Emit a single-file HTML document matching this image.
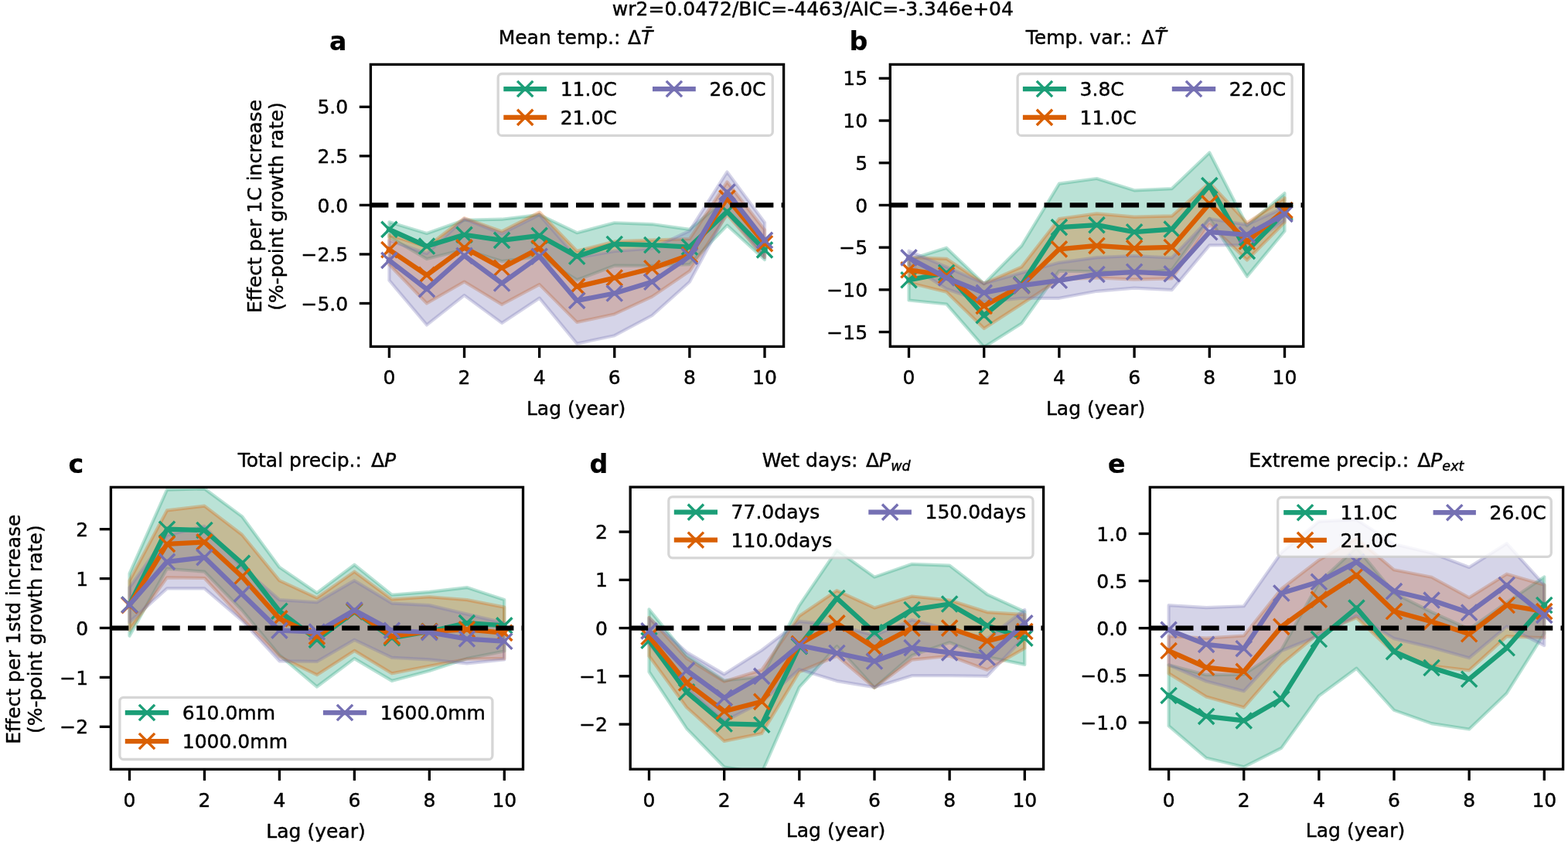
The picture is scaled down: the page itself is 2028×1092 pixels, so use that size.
<!DOCTYPE html>
<html><head><meta charset="utf-8"><title>Figure</title><style>html,body{margin:0;padding:0;background:#fff;width:2028px;height:1092px;overflow:hidden}svg{display:block}</style></head><body>
<svg width="2028" height="1092" viewBox="0 0 2028 1092" font-family="'DejaVu Sans', 'Liberation Sans', sans-serif">
<style>text{fill:#000;stroke:#000;stroke-width:0.45px;stroke-linejoin:round}</style>
<rect x="0" y="0" width="2028" height="1092" fill="#ffffff"/>
<clipPath id="clipa"><rect x="479.4" y="83.4" width="534.2" height="365"/></clipPath>
<g clip-path="url(#clipa)">
<path d="M503.4 287.26L551.96 302L600.52 284.72L649.08 283.7L697.64 277.86L746.2 301.24L794.76 288.28L843.32 290.06L891.88 296.92L940.44 255.99L989 310.65L989 336.07L940.44 291.58L891.88 342.17L843.32 343.95L794.76 343.69L746.2 362.25L697.64 331.75L649.08 338.1L600.52 322.85L551.96 335.05L503.4 306.58Z" fill="#1b9e77" fill-opacity="0.3" stroke="#1b9e77" stroke-opacity="0.3" stroke-width="4.17" stroke-linejoin="round"/>
<path d="M503.4 303.78L551.96 319.29L600.52 282.18L649.08 299.46L697.64 274.55L746.2 324.88L794.76 312.43L843.32 310.65L891.88 309.12L940.44 235.4L989 297.43L989 333.02L940.44 277.6L891.88 350.81L843.32 383.86L794.76 406.48L746.2 416.9L697.64 368.1L649.08 394.03L600.52 364.54L551.96 392.5L503.4 342.42Z" fill="#d95f02" fill-opacity="0.3" stroke="#d95f02" stroke-opacity="0.3" stroke-width="4.17" stroke-linejoin="round"/>
<path d="M503.4 310.9L551.96 327.93L600.52 283.19L649.08 302.26L697.64 277.86L746.2 333.27L794.76 324.88L843.32 321.32L891.88 298.7L940.44 222.44L989 288.02L989 333.78L940.44 274.81L891.88 364.79L843.32 408.26L794.76 434.19L746.2 444.61L697.64 385.64L649.08 417.92L600.52 382.08L551.96 420.46L503.4 362.76Z" fill="#7570b3" fill-opacity="0.3" stroke="#7570b3" stroke-opacity="0.3" stroke-width="4.17" stroke-linejoin="round"/>
<polyline points="503.4,296.92 551.96,318.53 600.52,303.78 649.08,310.9 697.64,304.8 746.2,331.75 794.76,315.99 843.32,317 891.88,319.54 940.44,273.79 989,323.36" fill="none" stroke="#1b9e77" stroke-width="6.25" stroke-linejoin="round" stroke-linecap="square"/>
<path d="M493.3 286.82L513.5 307.02M493.3 307.02L513.5 286.82" stroke="#1b9e77" stroke-width="3.4" fill="none" stroke-linecap="butt"/>
<path d="M541.86 308.43L562.06 328.63M541.86 328.63L562.06 308.43" stroke="#1b9e77" stroke-width="3.4" fill="none" stroke-linecap="butt"/>
<path d="M590.42 293.68L610.62 313.88M590.42 313.88L610.62 293.68" stroke="#1b9e77" stroke-width="3.4" fill="none" stroke-linecap="butt"/>
<path d="M638.98 300.8L659.18 321M638.98 321L659.18 300.8" stroke="#1b9e77" stroke-width="3.4" fill="none" stroke-linecap="butt"/>
<path d="M687.54 294.7L707.74 314.9M687.54 314.9L707.74 294.7" stroke="#1b9e77" stroke-width="3.4" fill="none" stroke-linecap="butt"/>
<path d="M736.1 321.65L756.3 341.85M736.1 341.85L756.3 321.65" stroke="#1b9e77" stroke-width="3.4" fill="none" stroke-linecap="butt"/>
<path d="M784.66 305.89L804.86 326.09M784.66 326.09L804.86 305.89" stroke="#1b9e77" stroke-width="3.4" fill="none" stroke-linecap="butt"/>
<path d="M833.22 306.9L853.42 327.1M833.22 327.1L853.42 306.9" stroke="#1b9e77" stroke-width="3.4" fill="none" stroke-linecap="butt"/>
<path d="M881.78 309.44L901.98 329.64M881.78 329.64L901.98 309.44" stroke="#1b9e77" stroke-width="3.4" fill="none" stroke-linecap="butt"/>
<path d="M930.34 263.69L950.54 283.89M930.34 283.89L950.54 263.69" stroke="#1b9e77" stroke-width="3.4" fill="none" stroke-linecap="butt"/>
<path d="M978.9 313.26L999.1 333.46M978.9 333.46L999.1 313.26" stroke="#1b9e77" stroke-width="3.4" fill="none" stroke-linecap="butt"/>
<polyline points="503.4,323.1 551.96,355.9 600.52,320.31 649.08,346.74 697.64,321.32 746.2,370.89 794.76,359.45 843.32,347.25 891.88,329.97 940.44,256.5 989,315.22" fill="none" stroke="#d95f02" stroke-width="6.25" stroke-linejoin="round" stroke-linecap="square"/>
<path d="M493.3 313L513.5 333.2M493.3 333.2L513.5 313" stroke="#d95f02" stroke-width="3.4" fill="none" stroke-linecap="butt"/>
<path d="M541.86 345.8L562.06 366M541.86 366L562.06 345.8" stroke="#d95f02" stroke-width="3.4" fill="none" stroke-linecap="butt"/>
<path d="M590.42 310.21L610.62 330.41M590.42 330.41L610.62 310.21" stroke="#d95f02" stroke-width="3.4" fill="none" stroke-linecap="butt"/>
<path d="M638.98 336.64L659.18 356.84M638.98 356.84L659.18 336.64" stroke="#d95f02" stroke-width="3.4" fill="none" stroke-linecap="butt"/>
<path d="M687.54 311.22L707.74 331.42M687.54 331.42L707.74 311.22" stroke="#d95f02" stroke-width="3.4" fill="none" stroke-linecap="butt"/>
<path d="M736.1 360.79L756.3 380.99M736.1 380.99L756.3 360.79" stroke="#d95f02" stroke-width="3.4" fill="none" stroke-linecap="butt"/>
<path d="M784.66 349.35L804.86 369.55M784.66 369.55L804.86 349.35" stroke="#d95f02" stroke-width="3.4" fill="none" stroke-linecap="butt"/>
<path d="M833.22 337.15L853.42 357.35M833.22 357.35L853.42 337.15" stroke="#d95f02" stroke-width="3.4" fill="none" stroke-linecap="butt"/>
<path d="M881.78 319.87L901.98 340.07M881.78 340.07L901.98 319.87" stroke="#d95f02" stroke-width="3.4" fill="none" stroke-linecap="butt"/>
<path d="M930.34 246.4L950.54 266.6M930.34 266.6L950.54 246.4" stroke="#d95f02" stroke-width="3.4" fill="none" stroke-linecap="butt"/>
<path d="M978.9 305.12L999.1 325.32M978.9 325.32L999.1 305.12" stroke="#d95f02" stroke-width="3.4" fill="none" stroke-linecap="butt"/>
<polyline points="503.4,336.83 551.96,374.2 600.52,330.73 649.08,366.57 697.64,331.75 746.2,388.94 794.76,379.54 843.32,364.79 891.88,331.75 940.44,248.62 989,310.9" fill="none" stroke="#7570b3" stroke-width="6.25" stroke-linejoin="round" stroke-linecap="square"/>
<path d="M493.3 326.73L513.5 346.93M493.3 346.93L513.5 326.73" stroke="#7570b3" stroke-width="3.4" fill="none" stroke-linecap="butt"/>
<path d="M541.86 364.1L562.06 384.3M541.86 384.3L562.06 364.1" stroke="#7570b3" stroke-width="3.4" fill="none" stroke-linecap="butt"/>
<path d="M590.42 320.63L610.62 340.83M590.42 340.83L610.62 320.63" stroke="#7570b3" stroke-width="3.4" fill="none" stroke-linecap="butt"/>
<path d="M638.98 356.47L659.18 376.67M638.98 376.67L659.18 356.47" stroke="#7570b3" stroke-width="3.4" fill="none" stroke-linecap="butt"/>
<path d="M687.54 321.65L707.74 341.85M687.54 341.85L707.74 321.65" stroke="#7570b3" stroke-width="3.4" fill="none" stroke-linecap="butt"/>
<path d="M736.1 378.84L756.3 399.04M736.1 399.04L756.3 378.84" stroke="#7570b3" stroke-width="3.4" fill="none" stroke-linecap="butt"/>
<path d="M784.66 369.44L804.86 389.64M784.66 389.64L804.86 369.44" stroke="#7570b3" stroke-width="3.4" fill="none" stroke-linecap="butt"/>
<path d="M833.22 354.69L853.42 374.89M833.22 374.89L853.42 354.69" stroke="#7570b3" stroke-width="3.4" fill="none" stroke-linecap="butt"/>
<path d="M881.78 321.65L901.98 341.85M881.78 341.85L901.98 321.65" stroke="#7570b3" stroke-width="3.4" fill="none" stroke-linecap="butt"/>
<path d="M930.34 238.52L950.54 258.72M930.34 258.72L950.54 238.52" stroke="#7570b3" stroke-width="3.4" fill="none" stroke-linecap="butt"/>
<path d="M978.9 300.8L999.1 321M978.9 321L999.1 300.8" stroke="#7570b3" stroke-width="3.4" fill="none" stroke-linecap="butt"/>
<line x1="479.4" y1="265.4" x2="1013.6" y2="265.4" stroke="#000" stroke-width="6.25" stroke-dasharray="23.0 10.2"/>
</g>
<rect x="479.4" y="83.4" width="534.2" height="365" fill="none" stroke="#000" stroke-width="3.33" stroke-linejoin="miter"/>
<line x1="503.4" y1="448.4" x2="503.4" y2="463" stroke="#000" stroke-width="3.33"/>
<text x="503.4" y="496.7" font-size="25" text-anchor="middle">0</text>
<line x1="600.52" y1="448.4" x2="600.52" y2="463" stroke="#000" stroke-width="3.33"/>
<text x="600.52" y="496.7" font-size="25" text-anchor="middle">2</text>
<line x1="697.64" y1="448.4" x2="697.64" y2="463" stroke="#000" stroke-width="3.33"/>
<text x="697.64" y="496.7" font-size="25" text-anchor="middle">4</text>
<line x1="794.76" y1="448.4" x2="794.76" y2="463" stroke="#000" stroke-width="3.33"/>
<text x="794.76" y="496.7" font-size="25" text-anchor="middle">6</text>
<line x1="891.88" y1="448.4" x2="891.88" y2="463" stroke="#000" stroke-width="3.33"/>
<text x="891.88" y="496.7" font-size="25" text-anchor="middle">8</text>
<line x1="989" y1="448.4" x2="989" y2="463" stroke="#000" stroke-width="3.33"/>
<text x="989" y="496.7" font-size="25" text-anchor="middle">10</text>
<line x1="464.8" y1="392.5" x2="479.4" y2="392.5" stroke="#000" stroke-width="3.33"/>
<text x="450.2" y="401.6" font-size="25" text-anchor="end">−5.0</text>
<line x1="464.8" y1="328.95" x2="479.4" y2="328.95" stroke="#000" stroke-width="3.33"/>
<text x="450.2" y="338.05" font-size="25" text-anchor="end">−2.5</text>
<line x1="464.8" y1="265.4" x2="479.4" y2="265.4" stroke="#000" stroke-width="3.33"/>
<text x="450.2" y="274.5" font-size="25" text-anchor="end">0.0</text>
<line x1="464.8" y1="201.85" x2="479.4" y2="201.85" stroke="#000" stroke-width="3.33"/>
<text x="450.2" y="210.95" font-size="25" text-anchor="end">2.5</text>
<line x1="464.8" y1="138.3" x2="479.4" y2="138.3" stroke="#000" stroke-width="3.33"/>
<text x="450.2" y="147.4" font-size="25" text-anchor="end">5.0</text>
<text x="745.1" y="536.6" font-size="25" text-anchor="middle">Lag (year)</text>
<text x="744.5" y="57.2" font-size="25" text-anchor="middle">Mean temp.: <tspan dx="1.5">Δ</tspan><tspan font-style="italic">T̄</tspan></text>
<text x="426" y="64.5" font-size="33.3" font-weight="bold" style="stroke-width:0.2px">a</text>
<rect x="644.2" y="95.5" width="355.1" height="79.9" rx="5" ry="5" fill="#ffffff" fill-opacity="0.8" stroke="#cccccc" stroke-opacity="0.8" stroke-width="3.3"/>
<line x1="651.3" y1="115" x2="707.1" y2="115" stroke="#1b9e77" stroke-width="6.25"/>
<path d="M669.1 104.9L689.3 125.1M669.1 125.1L689.3 104.9" stroke="#1b9e77" stroke-width="3.4" fill="none" stroke-linecap="butt"/>
<text x="724.7" y="123.8" font-size="25">11.0C</text>
<line x1="651.3" y1="151.9" x2="707.1" y2="151.9" stroke="#d95f02" stroke-width="6.25"/>
<path d="M669.1 141.8L689.3 162M669.1 162L689.3 141.8" stroke="#d95f02" stroke-width="3.4" fill="none" stroke-linecap="butt"/>
<text x="724.7" y="160.7" font-size="25">21.0C</text>
<line x1="844" y1="115" x2="899.8" y2="115" stroke="#7570b3" stroke-width="6.25"/>
<path d="M861.8 104.9L882 125.1M861.8 125.1L882 104.9" stroke="#7570b3" stroke-width="3.4" fill="none" stroke-linecap="butt"/>
<text x="917.4" y="123.8" font-size="25">26.0C</text>
<clipPath id="clipb"><rect x="1151.3" y="83.4" width="534.4" height="364.9"/></clipPath>
<g clip-path="url(#clipb)">
<path d="M1175.5 336.01L1224.1 320.7L1272.7 367.19L1321.3 317.96L1369.9 237.66L1418.5 230.99L1467.1 246.31L1515.7 244.12L1564.3 197.4L1612.9 292.03L1661.5 250.02L1661.5 299.04L1612.9 357.67L1564.3 282.74L1515.7 349.14L1467.1 354.17L1418.5 351.33L1369.9 350.56L1321.3 418.61L1272.7 449.24L1224.1 393.45L1175.5 388.52Z" fill="#1b9e77" fill-opacity="0.3" stroke="#1b9e77" stroke-opacity="0.3" stroke-width="4.17" stroke-linejoin="round"/>
<path d="M1175.5 332.84L1224.1 334.81L1272.7 366.97L1321.3 345.31L1369.9 282.95L1418.5 276.39L1467.1 280.66L1515.7 279.45L1564.3 236.46L1612.9 288.42L1661.5 256.15L1661.5 287.88L1612.9 336.56L1564.3 290.28L1515.7 360.41L1467.1 361.61L1418.5 359.53L1369.9 361.72L1321.3 393.45L1272.7 424.96L1224.1 377.69L1175.5 365.66Z" fill="#d95f02" fill-opacity="0.3" stroke="#d95f02" stroke-opacity="0.3" stroke-width="4.17" stroke-linejoin="round"/>
<path d="M1175.5 324.64L1224.1 345.31L1272.7 366.75L1321.3 352.97L1369.9 339.84L1418.5 333.06L1467.1 330.98L1515.7 333.5L1564.3 283.06L1612.9 290.72L1661.5 268.19L1661.5 285.69L1612.9 316.98L1564.3 317.41L1515.7 375.07L1467.1 372.55L1418.5 376.82L1369.9 385.79L1321.3 385.79L1272.7 390.82L1224.1 373.76L1175.5 342.14Z" fill="#7570b3" fill-opacity="0.3" stroke="#7570b3" stroke-opacity="0.3" stroke-width="4.17" stroke-linejoin="round"/>
<polyline points="1175.5,362.27 1224.1,352.97 1272.7,408.22 1321.3,368.29 1369.9,294.11 1418.5,291.16 1467.1,300.24 1515.7,296.63 1564.3,240.07 1612.9,324.85 1661.5,274.53" fill="none" stroke="#1b9e77" stroke-width="6.25" stroke-linejoin="round" stroke-linecap="square"/>
<path d="M1165.4 352.17L1185.6 372.37M1165.4 372.37L1185.6 352.17" stroke="#1b9e77" stroke-width="3.4" fill="none" stroke-linecap="butt"/>
<path d="M1214 342.87L1234.2 363.07M1214 363.07L1234.2 342.87" stroke="#1b9e77" stroke-width="3.4" fill="none" stroke-linecap="butt"/>
<path d="M1262.6 398.12L1282.8 418.32M1262.6 418.32L1282.8 398.12" stroke="#1b9e77" stroke-width="3.4" fill="none" stroke-linecap="butt"/>
<path d="M1311.2 358.19L1331.4 378.39M1311.2 378.39L1331.4 358.19" stroke="#1b9e77" stroke-width="3.4" fill="none" stroke-linecap="butt"/>
<path d="M1359.8 284.01L1380 304.21M1359.8 304.21L1380 284.01" stroke="#1b9e77" stroke-width="3.4" fill="none" stroke-linecap="butt"/>
<path d="M1408.4 281.06L1428.6 301.26M1408.4 301.26L1428.6 281.06" stroke="#1b9e77" stroke-width="3.4" fill="none" stroke-linecap="butt"/>
<path d="M1457 290.14L1477.2 310.34M1457 310.34L1477.2 290.14" stroke="#1b9e77" stroke-width="3.4" fill="none" stroke-linecap="butt"/>
<path d="M1505.6 286.53L1525.8 306.73M1505.6 306.73L1525.8 286.53" stroke="#1b9e77" stroke-width="3.4" fill="none" stroke-linecap="butt"/>
<path d="M1554.2 229.97L1574.4 250.17M1554.2 250.17L1574.4 229.97" stroke="#1b9e77" stroke-width="3.4" fill="none" stroke-linecap="butt"/>
<path d="M1602.8 314.75L1623 334.95M1602.8 334.95L1623 314.75" stroke="#1b9e77" stroke-width="3.4" fill="none" stroke-linecap="butt"/>
<path d="M1651.4 264.43L1671.6 284.63M1651.4 284.63L1671.6 264.43" stroke="#1b9e77" stroke-width="3.4" fill="none" stroke-linecap="butt"/>
<polyline points="1175.5,349.25 1224.1,356.25 1272.7,395.96 1321.3,369.38 1369.9,322.34 1418.5,317.96 1467.1,321.13 1515.7,319.93 1564.3,263.37 1612.9,312.49 1661.5,272.01" fill="none" stroke="#d95f02" stroke-width="6.25" stroke-linejoin="round" stroke-linecap="square"/>
<path d="M1165.4 339.15L1185.6 359.35M1165.4 359.35L1185.6 339.15" stroke="#d95f02" stroke-width="3.4" fill="none" stroke-linecap="butt"/>
<path d="M1214 346.15L1234.2 366.35M1214 366.35L1234.2 346.15" stroke="#d95f02" stroke-width="3.4" fill="none" stroke-linecap="butt"/>
<path d="M1262.6 385.86L1282.8 406.06M1262.6 406.06L1282.8 385.86" stroke="#d95f02" stroke-width="3.4" fill="none" stroke-linecap="butt"/>
<path d="M1311.2 359.28L1331.4 379.48M1311.2 379.48L1331.4 359.28" stroke="#d95f02" stroke-width="3.4" fill="none" stroke-linecap="butt"/>
<path d="M1359.8 312.24L1380 332.44M1359.8 332.44L1380 312.24" stroke="#d95f02" stroke-width="3.4" fill="none" stroke-linecap="butt"/>
<path d="M1408.4 307.86L1428.6 328.06M1408.4 328.06L1428.6 307.86" stroke="#d95f02" stroke-width="3.4" fill="none" stroke-linecap="butt"/>
<path d="M1457 311.03L1477.2 331.23M1457 331.23L1477.2 311.03" stroke="#d95f02" stroke-width="3.4" fill="none" stroke-linecap="butt"/>
<path d="M1505.6 309.83L1525.8 330.03M1505.6 330.03L1525.8 309.83" stroke="#d95f02" stroke-width="3.4" fill="none" stroke-linecap="butt"/>
<path d="M1554.2 253.27L1574.4 273.47M1554.2 273.47L1574.4 253.27" stroke="#d95f02" stroke-width="3.4" fill="none" stroke-linecap="butt"/>
<path d="M1602.8 302.39L1623 322.59M1602.8 322.59L1623 302.39" stroke="#d95f02" stroke-width="3.4" fill="none" stroke-linecap="butt"/>
<path d="M1651.4 261.91L1671.6 282.11M1651.4 282.11L1671.6 261.91" stroke="#d95f02" stroke-width="3.4" fill="none" stroke-linecap="butt"/>
<polyline points="1175.5,333.39 1224.1,359.53 1272.7,378.79 1321.3,369.38 1369.9,362.82 1418.5,354.94 1467.1,351.77 1515.7,354.28 1564.3,300.24 1612.9,303.85 1661.5,276.94" fill="none" stroke="#7570b3" stroke-width="6.25" stroke-linejoin="round" stroke-linecap="square"/>
<path d="M1165.4 323.29L1185.6 343.49M1165.4 343.49L1185.6 323.29" stroke="#7570b3" stroke-width="3.4" fill="none" stroke-linecap="butt"/>
<path d="M1214 349.43L1234.2 369.63M1214 369.63L1234.2 349.43" stroke="#7570b3" stroke-width="3.4" fill="none" stroke-linecap="butt"/>
<path d="M1262.6 368.69L1282.8 388.89M1262.6 388.89L1282.8 368.69" stroke="#7570b3" stroke-width="3.4" fill="none" stroke-linecap="butt"/>
<path d="M1311.2 359.28L1331.4 379.48M1311.2 379.48L1331.4 359.28" stroke="#7570b3" stroke-width="3.4" fill="none" stroke-linecap="butt"/>
<path d="M1359.8 352.72L1380 372.92M1359.8 372.92L1380 352.72" stroke="#7570b3" stroke-width="3.4" fill="none" stroke-linecap="butt"/>
<path d="M1408.4 344.84L1428.6 365.04M1408.4 365.04L1428.6 344.84" stroke="#7570b3" stroke-width="3.4" fill="none" stroke-linecap="butt"/>
<path d="M1457 341.67L1477.2 361.87M1457 361.87L1477.2 341.67" stroke="#7570b3" stroke-width="3.4" fill="none" stroke-linecap="butt"/>
<path d="M1505.6 344.18L1525.8 364.38M1505.6 364.38L1525.8 344.18" stroke="#7570b3" stroke-width="3.4" fill="none" stroke-linecap="butt"/>
<path d="M1554.2 290.14L1574.4 310.34M1554.2 310.34L1574.4 290.14" stroke="#7570b3" stroke-width="3.4" fill="none" stroke-linecap="butt"/>
<path d="M1602.8 293.75L1623 313.95M1602.8 313.95L1623 293.75" stroke="#7570b3" stroke-width="3.4" fill="none" stroke-linecap="butt"/>
<path d="M1651.4 266.84L1671.6 287.04M1651.4 287.04L1671.6 266.84" stroke="#7570b3" stroke-width="3.4" fill="none" stroke-linecap="butt"/>
<line x1="1151.3" y1="265.45" x2="1685.7" y2="265.45" stroke="#000" stroke-width="6.25" stroke-dasharray="23.0 10.2"/>
</g>
<rect x="1151.3" y="83.4" width="534.4" height="364.9" fill="none" stroke="#000" stroke-width="3.33" stroke-linejoin="miter"/>
<line x1="1175.5" y1="448.3" x2="1175.5" y2="462.9" stroke="#000" stroke-width="3.33"/>
<text x="1175.5" y="496.6" font-size="25" text-anchor="middle">0</text>
<line x1="1272.7" y1="448.3" x2="1272.7" y2="462.9" stroke="#000" stroke-width="3.33"/>
<text x="1272.7" y="496.6" font-size="25" text-anchor="middle">2</text>
<line x1="1369.9" y1="448.3" x2="1369.9" y2="462.9" stroke="#000" stroke-width="3.33"/>
<text x="1369.9" y="496.6" font-size="25" text-anchor="middle">4</text>
<line x1="1467.1" y1="448.3" x2="1467.1" y2="462.9" stroke="#000" stroke-width="3.33"/>
<text x="1467.1" y="496.6" font-size="25" text-anchor="middle">6</text>
<line x1="1564.3" y1="448.3" x2="1564.3" y2="462.9" stroke="#000" stroke-width="3.33"/>
<text x="1564.3" y="496.6" font-size="25" text-anchor="middle">8</text>
<line x1="1661.5" y1="448.3" x2="1661.5" y2="462.9" stroke="#000" stroke-width="3.33"/>
<text x="1661.5" y="496.6" font-size="25" text-anchor="middle">10</text>
<line x1="1136.7" y1="429.55" x2="1151.3" y2="429.55" stroke="#000" stroke-width="3.33"/>
<text x="1122.1" y="438.65" font-size="25" text-anchor="end">−15</text>
<line x1="1136.7" y1="374.85" x2="1151.3" y2="374.85" stroke="#000" stroke-width="3.33"/>
<text x="1122.1" y="383.95" font-size="25" text-anchor="end">−10</text>
<line x1="1136.7" y1="320.15" x2="1151.3" y2="320.15" stroke="#000" stroke-width="3.33"/>
<text x="1122.1" y="329.25" font-size="25" text-anchor="end">−5</text>
<line x1="1136.7" y1="265.45" x2="1151.3" y2="265.45" stroke="#000" stroke-width="3.33"/>
<text x="1122.1" y="274.55" font-size="25" text-anchor="end">0</text>
<line x1="1136.7" y1="210.75" x2="1151.3" y2="210.75" stroke="#000" stroke-width="3.33"/>
<text x="1122.1" y="219.85" font-size="25" text-anchor="end">5</text>
<line x1="1136.7" y1="156.05" x2="1151.3" y2="156.05" stroke="#000" stroke-width="3.33"/>
<text x="1122.1" y="165.15" font-size="25" text-anchor="end">10</text>
<line x1="1136.7" y1="101.35" x2="1151.3" y2="101.35" stroke="#000" stroke-width="3.33"/>
<text x="1122.1" y="110.45" font-size="25" text-anchor="end">15</text>
<text x="1417.1" y="536.5" font-size="25" text-anchor="middle">Lag (year)</text>
<text x="1417.75" y="57.2" font-size="25" text-anchor="middle">Temp. var.: <tspan dx="4.5">Δ</tspan><tspan font-style="italic">T̃</tspan></text>
<text x="1098.5" y="64.5" font-size="33.3" font-weight="bold" style="stroke-width:0.2px">b</text>
<rect x="1316.1" y="95.5" width="355" height="79.9" rx="5" ry="5" fill="#ffffff" fill-opacity="0.8" stroke="#cccccc" stroke-opacity="0.8" stroke-width="3.3"/>
<line x1="1322.9" y1="115" x2="1379" y2="115" stroke="#1b9e77" stroke-width="6.25"/>
<path d="M1340.85 104.9L1361.05 125.1M1340.85 125.1L1361.05 104.9" stroke="#1b9e77" stroke-width="3.4" fill="none" stroke-linecap="butt"/>
<text x="1396.6" y="123.8" font-size="25">3.8C</text>
<line x1="1322.9" y1="151.9" x2="1379" y2="151.9" stroke="#d95f02" stroke-width="6.25"/>
<path d="M1340.85 141.8L1361.05 162M1340.85 162L1361.05 141.8" stroke="#d95f02" stroke-width="3.4" fill="none" stroke-linecap="butt"/>
<text x="1396.6" y="160.7" font-size="25">11.0C</text>
<line x1="1515.8" y1="115" x2="1572.2" y2="115" stroke="#7570b3" stroke-width="6.25"/>
<path d="M1533.9 104.9L1554.1 125.1M1533.9 125.1L1554.1 104.9" stroke="#7570b3" stroke-width="3.4" fill="none" stroke-linecap="butt"/>
<text x="1589.8" y="123.8" font-size="25">22.0C</text>
<clipPath id="clipc"><rect x="143.4" y="630.4" width="533.1" height="364.9"/></clipPath>
<g clip-path="url(#clipc)">
<path d="M167.5 742.21L215.98 633.58L264.46 632.3L312.94 668.09L361.42 733.9L409.9 767.13L458.38 730.71L506.86 769.69L555.34 765.85L603.82 760.1L652.3 776.08L652.3 842.53L603.82 852.12L555.34 868.09L506.86 880.87L458.38 852.12L409.9 888.54L361.42 847.64L312.94 789.5L264.46 739.65L215.98 735.82L167.5 822.72Z" fill="#1b9e77" fill-opacity="0.3" stroke="#1b9e77" stroke-opacity="0.3" stroke-width="4.17" stroke-linejoin="round"/>
<path d="M167.5 751.16L215.98 660.42L264.46 654.67L312.94 691.73L361.42 751.16L409.9 773.52L458.38 739.65L506.86 775.44L555.34 772.24L603.82 776.08L652.3 785.66L652.3 852.12L603.82 852.76L555.34 861.7L506.86 871.29L458.38 841.89L409.9 873.21L361.42 849.56L312.94 800.36L264.46 747.96L215.98 747.32L167.5 815.06Z" fill="#d95f02" fill-opacity="0.3" stroke="#d95f02" stroke-opacity="0.3" stroke-width="4.17" stroke-linejoin="round"/>
<path d="M167.5 760.1L215.98 692.37L264.46 680.87L312.94 733.9L361.42 776.08L409.9 779.27L458.38 751.16L506.86 780.55L555.34 783.11L603.82 794.61L652.3 806.11L652.3 853.4L603.82 858.51L555.34 853.4L506.86 850.84L458.38 827.84L409.9 855.95L361.42 855.31L312.94 802.91L264.46 761.38L215.98 761.38L167.5 804.83Z" fill="#7570b3" fill-opacity="0.3" stroke="#7570b3" stroke-opacity="0.3" stroke-width="4.17" stroke-linejoin="round"/>
<polyline points="167.5,782.47 215.98,684.7 264.46,685.98 312.94,728.79 361.42,790.77 409.9,827.84 458.38,791.41 506.86,825.28 555.34,816.97 603.82,806.11 652.3,809.3" fill="none" stroke="#1b9e77" stroke-width="6.25" stroke-linejoin="round" stroke-linecap="square"/>
<path d="M157.4 772.37L177.6 792.57M157.4 792.57L177.6 772.37" stroke="#1b9e77" stroke-width="3.4" fill="none" stroke-linecap="butt"/>
<path d="M205.88 674.6L226.08 694.8M205.88 694.8L226.08 674.6" stroke="#1b9e77" stroke-width="3.4" fill="none" stroke-linecap="butt"/>
<path d="M254.36 675.88L274.56 696.08M254.36 696.08L274.56 675.88" stroke="#1b9e77" stroke-width="3.4" fill="none" stroke-linecap="butt"/>
<path d="M302.84 718.69L323.04 738.89M302.84 738.89L323.04 718.69" stroke="#1b9e77" stroke-width="3.4" fill="none" stroke-linecap="butt"/>
<path d="M351.32 780.67L371.52 800.87M351.32 800.87L371.52 780.67" stroke="#1b9e77" stroke-width="3.4" fill="none" stroke-linecap="butt"/>
<path d="M399.8 817.74L420 837.94M399.8 837.94L420 817.74" stroke="#1b9e77" stroke-width="3.4" fill="none" stroke-linecap="butt"/>
<path d="M448.28 781.31L468.48 801.51M448.28 801.51L468.48 781.31" stroke="#1b9e77" stroke-width="3.4" fill="none" stroke-linecap="butt"/>
<path d="M496.76 815.18L516.96 835.38M496.76 835.38L516.96 815.18" stroke="#1b9e77" stroke-width="3.4" fill="none" stroke-linecap="butt"/>
<path d="M545.24 806.87L565.44 827.07M545.24 827.07L565.44 806.87" stroke="#1b9e77" stroke-width="3.4" fill="none" stroke-linecap="butt"/>
<path d="M593.72 796.01L613.92 816.21M593.72 816.21L613.92 796.01" stroke="#1b9e77" stroke-width="3.4" fill="none" stroke-linecap="butt"/>
<path d="M642.2 799.2L662.4 819.4M642.2 819.4L662.4 799.2" stroke="#1b9e77" stroke-width="3.4" fill="none" stroke-linecap="butt"/>
<polyline points="167.5,783.11 215.98,703.87 264.46,701.31 312.94,746.04 361.42,800.36 409.9,823.36 458.38,790.77 506.86,823.36 555.34,816.97 603.82,814.42 652.3,818.89" fill="none" stroke="#d95f02" stroke-width="6.25" stroke-linejoin="round" stroke-linecap="square"/>
<path d="M157.4 773.01L177.6 793.21M157.4 793.21L177.6 773.01" stroke="#d95f02" stroke-width="3.4" fill="none" stroke-linecap="butt"/>
<path d="M205.88 693.77L226.08 713.97M205.88 713.97L226.08 693.77" stroke="#d95f02" stroke-width="3.4" fill="none" stroke-linecap="butt"/>
<path d="M254.36 691.21L274.56 711.41M254.36 711.41L274.56 691.21" stroke="#d95f02" stroke-width="3.4" fill="none" stroke-linecap="butt"/>
<path d="M302.84 735.94L323.04 756.14M302.84 756.14L323.04 735.94" stroke="#d95f02" stroke-width="3.4" fill="none" stroke-linecap="butt"/>
<path d="M351.32 790.26L371.52 810.46M351.32 810.46L371.52 790.26" stroke="#d95f02" stroke-width="3.4" fill="none" stroke-linecap="butt"/>
<path d="M399.8 813.26L420 833.46M399.8 833.46L420 813.26" stroke="#d95f02" stroke-width="3.4" fill="none" stroke-linecap="butt"/>
<path d="M448.28 780.67L468.48 800.87M448.28 800.87L468.48 780.67" stroke="#d95f02" stroke-width="3.4" fill="none" stroke-linecap="butt"/>
<path d="M496.76 813.26L516.96 833.46M496.76 833.46L516.96 813.26" stroke="#d95f02" stroke-width="3.4" fill="none" stroke-linecap="butt"/>
<path d="M545.24 806.87L565.44 827.07M545.24 827.07L565.44 806.87" stroke="#d95f02" stroke-width="3.4" fill="none" stroke-linecap="butt"/>
<path d="M593.72 804.32L613.92 824.52M593.72 824.52L613.92 804.32" stroke="#d95f02" stroke-width="3.4" fill="none" stroke-linecap="butt"/>
<path d="M642.2 808.79L662.4 828.99M642.2 828.99L662.4 808.79" stroke="#d95f02" stroke-width="3.4" fill="none" stroke-linecap="butt"/>
<polyline points="167.5,782.47 215.98,726.87 264.46,721.12 312.94,768.41 361.42,815.7 409.9,817.61 458.38,789.5 506.86,815.7 555.34,818.25 603.82,826.56 652.3,829.75" fill="none" stroke="#7570b3" stroke-width="6.25" stroke-linejoin="round" stroke-linecap="square"/>
<path d="M157.4 772.37L177.6 792.57M157.4 792.57L177.6 772.37" stroke="#7570b3" stroke-width="3.4" fill="none" stroke-linecap="butt"/>
<path d="M205.88 716.77L226.08 736.97M205.88 736.97L226.08 716.77" stroke="#7570b3" stroke-width="3.4" fill="none" stroke-linecap="butt"/>
<path d="M254.36 711.02L274.56 731.22M254.36 731.22L274.56 711.02" stroke="#7570b3" stroke-width="3.4" fill="none" stroke-linecap="butt"/>
<path d="M302.84 758.31L323.04 778.51M302.84 778.51L323.04 758.31" stroke="#7570b3" stroke-width="3.4" fill="none" stroke-linecap="butt"/>
<path d="M351.32 805.6L371.52 825.8M351.32 825.8L371.52 805.6" stroke="#7570b3" stroke-width="3.4" fill="none" stroke-linecap="butt"/>
<path d="M399.8 807.51L420 827.71M399.8 827.71L420 807.51" stroke="#7570b3" stroke-width="3.4" fill="none" stroke-linecap="butt"/>
<path d="M448.28 779.4L468.48 799.6M448.28 799.6L468.48 779.4" stroke="#7570b3" stroke-width="3.4" fill="none" stroke-linecap="butt"/>
<path d="M496.76 805.6L516.96 825.8M496.76 825.8L516.96 805.6" stroke="#7570b3" stroke-width="3.4" fill="none" stroke-linecap="butt"/>
<path d="M545.24 808.15L565.44 828.35M545.24 828.35L565.44 808.15" stroke="#7570b3" stroke-width="3.4" fill="none" stroke-linecap="butt"/>
<path d="M593.72 816.46L613.92 836.66M593.72 836.66L613.92 816.46" stroke="#7570b3" stroke-width="3.4" fill="none" stroke-linecap="butt"/>
<path d="M642.2 819.65L662.4 839.85M642.2 839.85L662.4 819.65" stroke="#7570b3" stroke-width="3.4" fill="none" stroke-linecap="butt"/>
<line x1="143.4" y1="812.5" x2="676.5" y2="812.5" stroke="#000" stroke-width="6.25" stroke-dasharray="23.0 10.2"/>
</g>
<rect x="143.4" y="630.4" width="533.1" height="364.9" fill="none" stroke="#000" stroke-width="3.33" stroke-linejoin="miter"/>
<line x1="167.5" y1="995.3" x2="167.5" y2="1009.9" stroke="#000" stroke-width="3.33"/>
<text x="167.5" y="1043.6" font-size="25" text-anchor="middle">0</text>
<line x1="264.46" y1="995.3" x2="264.46" y2="1009.9" stroke="#000" stroke-width="3.33"/>
<text x="264.46" y="1043.6" font-size="25" text-anchor="middle">2</text>
<line x1="361.42" y1="995.3" x2="361.42" y2="1009.9" stroke="#000" stroke-width="3.33"/>
<text x="361.42" y="1043.6" font-size="25" text-anchor="middle">4</text>
<line x1="458.38" y1="995.3" x2="458.38" y2="1009.9" stroke="#000" stroke-width="3.33"/>
<text x="458.38" y="1043.6" font-size="25" text-anchor="middle">6</text>
<line x1="555.34" y1="995.3" x2="555.34" y2="1009.9" stroke="#000" stroke-width="3.33"/>
<text x="555.34" y="1043.6" font-size="25" text-anchor="middle">8</text>
<line x1="652.3" y1="995.3" x2="652.3" y2="1009.9" stroke="#000" stroke-width="3.33"/>
<text x="652.3" y="1043.6" font-size="25" text-anchor="middle">10</text>
<line x1="128.8" y1="940.3" x2="143.4" y2="940.3" stroke="#000" stroke-width="3.33"/>
<text x="114.2" y="949.4" font-size="25" text-anchor="end">−2</text>
<line x1="128.8" y1="876.4" x2="143.4" y2="876.4" stroke="#000" stroke-width="3.33"/>
<text x="114.2" y="885.5" font-size="25" text-anchor="end">−1</text>
<line x1="128.8" y1="812.5" x2="143.4" y2="812.5" stroke="#000" stroke-width="3.33"/>
<text x="114.2" y="821.6" font-size="25" text-anchor="end">0</text>
<line x1="128.8" y1="748.6" x2="143.4" y2="748.6" stroke="#000" stroke-width="3.33"/>
<text x="114.2" y="757.7" font-size="25" text-anchor="end">1</text>
<line x1="128.8" y1="684.7" x2="143.4" y2="684.7" stroke="#000" stroke-width="3.33"/>
<text x="114.2" y="693.8" font-size="25" text-anchor="end">2</text>
<text x="408.55" y="1083.5" font-size="25" text-anchor="middle">Lag (year)</text>
<text x="409.95" y="604.2" font-size="25" text-anchor="middle">Total precip.: <tspan dx="4">Δ</tspan><tspan font-style="italic">P</tspan></text>
<text x="88.5" y="612" font-size="33.3" font-weight="bold" style="stroke-width:0.2px">c</text>
<rect x="154.9" y="902.3" width="482" height="80.2" rx="5" ry="5" fill="#ffffff" fill-opacity="0.8" stroke="#cccccc" stroke-opacity="0.8" stroke-width="3.3"/>
<line x1="161.8" y1="922" x2="218.2" y2="922" stroke="#1b9e77" stroke-width="6.25"/>
<path d="M179.9 911.9L200.1 932.1M179.9 932.1L200.1 911.9" stroke="#1b9e77" stroke-width="3.4" fill="none" stroke-linecap="butt"/>
<text x="235.8" y="930.8" font-size="25">610.0mm</text>
<line x1="161.8" y1="959" x2="218.2" y2="959" stroke="#d95f02" stroke-width="6.25"/>
<path d="M179.9 948.9L200.1 969.1M179.9 969.1L200.1 948.9" stroke="#d95f02" stroke-width="3.4" fill="none" stroke-linecap="butt"/>
<text x="235.8" y="967.8" font-size="25">1000.0mm</text>
<line x1="417.9" y1="922" x2="474.1" y2="922" stroke="#7570b3" stroke-width="6.25"/>
<path d="M435.9 911.9L456.1 932.1M435.9 932.1L456.1 911.9" stroke="#7570b3" stroke-width="3.4" fill="none" stroke-linecap="butt"/>
<text x="491.7" y="930.8" font-size="25">1600.0mm</text>
<clipPath id="clipd"><rect x="815.2" y="630.2" width="534.4" height="365"/></clipPath>
<g clip-path="url(#clipd)">
<path d="M839.5 788.32L888.08 848.08L936.66 880.45L985.24 875.47L1033.82 783.34L1082.4 711.75L1130.98 746.62L1179.56 729.81L1228.14 731.68L1276.72 769.02L1325.3 791.44L1325.3 859.91L1276.72 849.95L1228.14 831.27L1179.56 848.08L1130.98 889.79L1082.4 836.25L1033.82 889.17L985.24 999.97L936.66 992.5L888.08 942.7L839.5 869.25Z" fill="#1b9e77" fill-opacity="0.3" stroke="#1b9e77" stroke-opacity="0.3" stroke-width="4.17" stroke-linejoin="round"/>
<path d="M839.5 798.9L888.08 851.82L936.66 881.7L985.24 866.76L1033.82 797.04L1082.4 764.05L1130.98 786.46L1179.56 771.51L1228.14 776.5L1276.72 792.06L1325.3 795.17L1325.3 838.75L1276.72 866.76L1228.14 848.71L1179.56 853.69L1130.98 889.79L1082.4 848.71L1033.82 869.25L985.24 948.93L936.66 958.89L888.08 915.31L839.5 848.71Z" fill="#d95f02" fill-opacity="0.3" stroke="#d95f02" stroke-opacity="0.3" stroke-width="4.17" stroke-linejoin="round"/>
<path d="M839.5 799.53L888.08 843.73L936.66 872.36L985.24 841.24L1033.82 803.88L1082.4 808.87L1130.98 821.94L1179.56 802.02L1228.14 814.47L1276.72 826.3L1325.3 788.95L1325.3 823.81L1276.72 874.85L1228.14 874.23L1179.56 874.23L1130.98 889.17L1082.4 881.08L1033.82 866.13L985.24 908.47L936.66 933.37L888.08 891.04L839.5 833.14Z" fill="#7570b3" fill-opacity="0.3" stroke="#7570b3" stroke-opacity="0.3" stroke-width="4.17" stroke-linejoin="round"/>
<polyline points="839.5,828.79 888.08,895.39 936.66,936.48 985.24,937.72 1033.82,836.25 1082.4,774 1130.98,818.2 1179.56,788.95 1228.14,781.48 1276.72,809.49 1325.3,825.67" fill="none" stroke="#1b9e77" stroke-width="6.25" stroke-linejoin="round" stroke-linecap="square"/>
<path d="M829.4 818.69L849.6 838.89M829.4 838.89L849.6 818.69" stroke="#1b9e77" stroke-width="3.4" fill="none" stroke-linecap="butt"/>
<path d="M877.98 885.29L898.18 905.49M877.98 905.49L898.18 885.29" stroke="#1b9e77" stroke-width="3.4" fill="none" stroke-linecap="butt"/>
<path d="M926.56 926.38L946.76 946.58M926.56 946.58L946.76 926.38" stroke="#1b9e77" stroke-width="3.4" fill="none" stroke-linecap="butt"/>
<path d="M975.14 927.62L995.34 947.82M975.14 947.82L995.34 927.62" stroke="#1b9e77" stroke-width="3.4" fill="none" stroke-linecap="butt"/>
<path d="M1023.72 826.15L1043.92 846.36M1023.72 846.36L1043.92 826.15" stroke="#1b9e77" stroke-width="3.4" fill="none" stroke-linecap="butt"/>
<path d="M1072.3 763.9L1092.5 784.11M1072.3 784.11L1092.5 763.9" stroke="#1b9e77" stroke-width="3.4" fill="none" stroke-linecap="butt"/>
<path d="M1120.88 808.1L1141.08 828.3M1120.88 828.3L1141.08 808.1" stroke="#1b9e77" stroke-width="3.4" fill="none" stroke-linecap="butt"/>
<path d="M1169.46 778.85L1189.66 799.05M1169.46 799.05L1189.66 778.85" stroke="#1b9e77" stroke-width="3.4" fill="none" stroke-linecap="butt"/>
<path d="M1218.04 771.38L1238.24 791.58M1218.04 791.58L1238.24 771.38" stroke="#1b9e77" stroke-width="3.4" fill="none" stroke-linecap="butt"/>
<path d="M1266.62 799.39L1286.82 819.59M1266.62 819.59L1286.82 799.39" stroke="#1b9e77" stroke-width="3.4" fill="none" stroke-linecap="butt"/>
<path d="M1315.2 815.57L1335.4 835.77M1315.2 835.77L1335.4 815.57" stroke="#1b9e77" stroke-width="3.4" fill="none" stroke-linecap="butt"/>
<polyline points="839.5,823.81 888.08,883.57 936.66,920.29 985.24,907.84 1033.82,833.14 1082.4,806.38 1130.98,838.12 1179.56,812.6 1228.14,812.6 1276.72,829.41 1325.3,816.96" fill="none" stroke="#d95f02" stroke-width="6.25" stroke-linejoin="round" stroke-linecap="square"/>
<path d="M829.4 813.71L849.6 833.91M829.4 833.91L849.6 813.71" stroke="#d95f02" stroke-width="3.4" fill="none" stroke-linecap="butt"/>
<path d="M877.98 873.47L898.18 893.67M877.98 893.67L898.18 873.47" stroke="#d95f02" stroke-width="3.4" fill="none" stroke-linecap="butt"/>
<path d="M926.56 910.19L946.76 930.39M926.56 930.39L946.76 910.19" stroke="#d95f02" stroke-width="3.4" fill="none" stroke-linecap="butt"/>
<path d="M975.14 897.74L995.34 917.94M975.14 917.94L995.34 897.74" stroke="#d95f02" stroke-width="3.4" fill="none" stroke-linecap="butt"/>
<path d="M1023.72 823.04L1043.92 843.24M1023.72 843.24L1043.92 823.04" stroke="#d95f02" stroke-width="3.4" fill="none" stroke-linecap="butt"/>
<path d="M1072.3 796.27L1092.5 816.48M1072.3 816.48L1092.5 796.27" stroke="#d95f02" stroke-width="3.4" fill="none" stroke-linecap="butt"/>
<path d="M1120.88 828.02L1141.08 848.22M1120.88 848.22L1141.08 828.02" stroke="#d95f02" stroke-width="3.4" fill="none" stroke-linecap="butt"/>
<path d="M1169.46 802.5L1189.66 822.7M1169.46 822.7L1189.66 802.5" stroke="#d95f02" stroke-width="3.4" fill="none" stroke-linecap="butt"/>
<path d="M1218.04 802.5L1238.24 822.7M1218.04 822.7L1238.24 802.5" stroke="#d95f02" stroke-width="3.4" fill="none" stroke-linecap="butt"/>
<path d="M1266.62 819.31L1286.82 839.51M1266.62 839.51L1286.82 819.31" stroke="#d95f02" stroke-width="3.4" fill="none" stroke-linecap="butt"/>
<path d="M1315.2 806.86L1335.4 827.06M1315.2 827.06L1335.4 806.86" stroke="#d95f02" stroke-width="3.4" fill="none" stroke-linecap="butt"/>
<polyline points="839.5,816.34 888.08,867.38 936.66,902.86 985.24,874.85 1033.82,835.01 1082.4,844.97 1130.98,855.55 1179.56,838.12 1228.14,844.35 1276.72,850.57 1325.3,806.38" fill="none" stroke="#7570b3" stroke-width="6.25" stroke-linejoin="round" stroke-linecap="square"/>
<path d="M829.4 806.24L849.6 826.44M829.4 826.44L849.6 806.24" stroke="#7570b3" stroke-width="3.4" fill="none" stroke-linecap="butt"/>
<path d="M877.98 857.28L898.18 877.48M877.98 877.48L898.18 857.28" stroke="#7570b3" stroke-width="3.4" fill="none" stroke-linecap="butt"/>
<path d="M926.56 892.76L946.76 912.96M926.56 912.96L946.76 892.76" stroke="#7570b3" stroke-width="3.4" fill="none" stroke-linecap="butt"/>
<path d="M975.14 864.75L995.34 884.95M975.14 884.95L995.34 864.75" stroke="#7570b3" stroke-width="3.4" fill="none" stroke-linecap="butt"/>
<path d="M1023.72 824.91L1043.92 845.11M1023.72 845.11L1043.92 824.91" stroke="#7570b3" stroke-width="3.4" fill="none" stroke-linecap="butt"/>
<path d="M1072.3 834.87L1092.5 855.07M1072.3 855.07L1092.5 834.87" stroke="#7570b3" stroke-width="3.4" fill="none" stroke-linecap="butt"/>
<path d="M1120.88 845.45L1141.08 865.65M1120.88 865.65L1141.08 845.45" stroke="#7570b3" stroke-width="3.4" fill="none" stroke-linecap="butt"/>
<path d="M1169.46 828.02L1189.66 848.22M1169.46 848.22L1189.66 828.02" stroke="#7570b3" stroke-width="3.4" fill="none" stroke-linecap="butt"/>
<path d="M1218.04 834.25L1238.24 854.45M1218.04 854.45L1238.24 834.25" stroke="#7570b3" stroke-width="3.4" fill="none" stroke-linecap="butt"/>
<path d="M1266.62 840.47L1286.82 860.67M1266.62 860.67L1286.82 840.47" stroke="#7570b3" stroke-width="3.4" fill="none" stroke-linecap="butt"/>
<path d="M1315.2 796.27L1335.4 816.48M1315.2 816.48L1335.4 796.27" stroke="#7570b3" stroke-width="3.4" fill="none" stroke-linecap="butt"/>
<line x1="815.2" y1="812.6" x2="1349.6" y2="812.6" stroke="#000" stroke-width="6.25" stroke-dasharray="23.0 10.2"/>
</g>
<rect x="815.2" y="630.2" width="534.4" height="365" fill="none" stroke="#000" stroke-width="3.33" stroke-linejoin="miter"/>
<line x1="839.5" y1="995.2" x2="839.5" y2="1009.8" stroke="#000" stroke-width="3.33"/>
<text x="839.5" y="1043.5" font-size="25" text-anchor="middle">0</text>
<line x1="936.66" y1="995.2" x2="936.66" y2="1009.8" stroke="#000" stroke-width="3.33"/>
<text x="936.66" y="1043.5" font-size="25" text-anchor="middle">2</text>
<line x1="1033.82" y1="995.2" x2="1033.82" y2="1009.8" stroke="#000" stroke-width="3.33"/>
<text x="1033.82" y="1043.5" font-size="25" text-anchor="middle">4</text>
<line x1="1130.98" y1="995.2" x2="1130.98" y2="1009.8" stroke="#000" stroke-width="3.33"/>
<text x="1130.98" y="1043.5" font-size="25" text-anchor="middle">6</text>
<line x1="1228.14" y1="995.2" x2="1228.14" y2="1009.8" stroke="#000" stroke-width="3.33"/>
<text x="1228.14" y="1043.5" font-size="25" text-anchor="middle">8</text>
<line x1="1325.3" y1="995.2" x2="1325.3" y2="1009.8" stroke="#000" stroke-width="3.33"/>
<text x="1325.3" y="1043.5" font-size="25" text-anchor="middle">10</text>
<line x1="800.6" y1="937.1" x2="815.2" y2="937.1" stroke="#000" stroke-width="3.33"/>
<text x="786" y="946.2" font-size="25" text-anchor="end">−2</text>
<line x1="800.6" y1="874.85" x2="815.2" y2="874.85" stroke="#000" stroke-width="3.33"/>
<text x="786" y="883.95" font-size="25" text-anchor="end">−1</text>
<line x1="800.6" y1="812.6" x2="815.2" y2="812.6" stroke="#000" stroke-width="3.33"/>
<text x="786" y="821.7" font-size="25" text-anchor="end">0</text>
<line x1="800.6" y1="750.35" x2="815.2" y2="750.35" stroke="#000" stroke-width="3.33"/>
<text x="786" y="759.45" font-size="25" text-anchor="end">1</text>
<line x1="800.6" y1="688.1" x2="815.2" y2="688.1" stroke="#000" stroke-width="3.33"/>
<text x="786" y="697.2" font-size="25" text-anchor="end">2</text>
<text x="1081" y="1083.4" font-size="25" text-anchor="middle">Lag (year)</text>
<text x="1081.65" y="604" font-size="25" text-anchor="middle">Wet days: <tspan dx="2.5">Δ</tspan><tspan font-style="italic">P</tspan><tspan font-style="italic" font-size="17.5" dy="5.2">wd</tspan></text>
<text x="762.5" y="612" font-size="33.3" font-weight="bold" style="stroke-width:0.2px">d</text>
<rect x="864.8" y="642.8" width="471.2" height="79" rx="5" ry="5" fill="#ffffff" fill-opacity="0.8" stroke="#cccccc" stroke-opacity="0.8" stroke-width="3.3"/>
<line x1="871.8" y1="662.6" x2="928" y2="662.6" stroke="#1b9e77" stroke-width="6.25"/>
<path d="M889.8 652.5L910 672.7M889.8 672.7L910 652.5" stroke="#1b9e77" stroke-width="3.4" fill="none" stroke-linecap="butt"/>
<text x="945.6" y="671.4" font-size="25">77.0days</text>
<line x1="871.8" y1="698.7" x2="928" y2="698.7" stroke="#d95f02" stroke-width="6.25"/>
<path d="M889.8 688.6L910 708.8M889.8 708.8L910 688.6" stroke="#d95f02" stroke-width="3.4" fill="none" stroke-linecap="butt"/>
<text x="945.6" y="707.5" font-size="25">110.0days</text>
<line x1="1123.3" y1="662.6" x2="1178.9" y2="662.6" stroke="#7570b3" stroke-width="6.25"/>
<path d="M1141 652.5L1161.2 672.7M1141 672.7L1161.2 652.5" stroke="#7570b3" stroke-width="3.4" fill="none" stroke-linecap="butt"/>
<text x="1196.5" y="671.4" font-size="25">150.0days</text>
<clipPath id="clipe"><rect x="1487.3" y="630.4" width="534.3" height="364.8"/></clipPath>
<g clip-path="url(#clipe)">
<path d="M1511.6 860.36L1560.17 873.19L1608.74 872.58L1657.31 840.81L1705.88 753.68L1754.45 708.34L1803.02 767.36L1851.59 791.93L1900.16 813.92L1948.73 779.58L1997.3 746.35L1997.3 819.67L1948.73 896.9L1900.16 943.45L1851.59 936.12L1803.02 918.89L1754.45 864.76L1705.88 900.32L1657.31 967.89L1608.74 992.33L1560.17 980.73L1511.6 939.18Z" fill="#1b9e77" fill-opacity="0.3" stroke="#1b9e77" stroke-opacity="0.3" stroke-width="4.17" stroke-linejoin="round"/>
<path d="M1511.6 823.09L1560.17 825.65L1608.74 822.48L1657.31 761.99L1705.88 724.72L1754.45 696.61L1803.02 737.3L1851.59 746.71L1900.16 773.23L1948.73 742.68L1997.3 756.85L1997.3 825.29L1948.73 823.33L1900.16 867.32L1851.59 861.58L1803.02 844.84L1754.45 799.26L1705.88 818.81L1657.31 859.75L1608.74 915.35L1560.17 901.42L1511.6 871.36Z" fill="#d95f02" fill-opacity="0.3" stroke="#d95f02" stroke-opacity="0.3" stroke-width="4.17" stroke-linejoin="round"/>
<path d="M1511.6 783.13L1560.17 786.18L1608.74 784.23L1657.31 714.94L1705.88 674.61L1754.45 672.17L1803.02 703.94L1851.59 715.43L1900.16 734L1948.73 703.21L1997.3 756.85L1997.3 835.06L1948.73 810.74L1900.16 851.32L1851.59 837.63L1803.02 826.14L1754.45 796.81L1705.88 822.48L1657.31 842.03L1608.74 894.21L1560.17 881.5L1511.6 860.36Z" fill="#7570b3" fill-opacity="0.3" stroke="#7570b3" stroke-opacity="0.3" stroke-width="4.17" stroke-linejoin="round"/>
<polyline points="1511.6,899.95 1560.17,926.96 1608.74,932.46 1657.31,904.35 1705.88,827 1754.45,786.55 1803.02,843.13 1851.59,864.02 1900.16,878.69 1948.73,838.24 1997.3,783.01" fill="none" stroke="#1b9e77" stroke-width="6.25" stroke-linejoin="round" stroke-linecap="square"/>
<path d="M1501.5 889.85L1521.7 910.05M1501.5 910.05L1521.7 889.85" stroke="#1b9e77" stroke-width="3.4" fill="none" stroke-linecap="butt"/>
<path d="M1550.07 916.86L1570.27 937.06M1550.07 937.06L1570.27 916.86" stroke="#1b9e77" stroke-width="3.4" fill="none" stroke-linecap="butt"/>
<path d="M1598.64 922.36L1618.84 942.56M1598.64 942.56L1618.84 922.36" stroke="#1b9e77" stroke-width="3.4" fill="none" stroke-linecap="butt"/>
<path d="M1647.21 894.25L1667.41 914.45M1647.21 914.45L1667.41 894.25" stroke="#1b9e77" stroke-width="3.4" fill="none" stroke-linecap="butt"/>
<path d="M1695.78 816.9L1715.98 837.1M1695.78 837.1L1715.98 816.9" stroke="#1b9e77" stroke-width="3.4" fill="none" stroke-linecap="butt"/>
<path d="M1744.35 776.45L1764.55 796.65M1744.35 796.65L1764.55 776.45" stroke="#1b9e77" stroke-width="3.4" fill="none" stroke-linecap="butt"/>
<path d="M1792.92 833.03L1813.12 853.23M1792.92 853.23L1813.12 833.03" stroke="#1b9e77" stroke-width="3.4" fill="none" stroke-linecap="butt"/>
<path d="M1841.49 853.92L1861.69 874.12M1841.49 874.12L1861.69 853.92" stroke="#1b9e77" stroke-width="3.4" fill="none" stroke-linecap="butt"/>
<path d="M1890.06 868.59L1910.26 888.79M1890.06 888.79L1910.26 868.59" stroke="#1b9e77" stroke-width="3.4" fill="none" stroke-linecap="butt"/>
<path d="M1938.63 828.14L1958.83 848.34M1938.63 848.34L1958.83 828.14" stroke="#1b9e77" stroke-width="3.4" fill="none" stroke-linecap="butt"/>
<path d="M1987.2 772.91L2007.4 793.11M1987.2 793.11L2007.4 772.91" stroke="#1b9e77" stroke-width="3.4" fill="none" stroke-linecap="butt"/>
<polyline points="1511.6,842.03 1560.17,863.54 1608.74,868.91 1657.31,810.87 1705.88,775.67 1754.45,744.02 1803.02,791.07 1851.59,804.15 1900.16,820.28 1948.73,783.01 1997.3,791.07" fill="none" stroke="#d95f02" stroke-width="6.25" stroke-linejoin="round" stroke-linecap="square"/>
<path d="M1501.5 831.93L1521.7 852.13M1501.5 852.13L1521.7 831.93" stroke="#d95f02" stroke-width="3.4" fill="none" stroke-linecap="butt"/>
<path d="M1550.07 853.44L1570.27 873.64M1550.07 873.64L1570.27 853.44" stroke="#d95f02" stroke-width="3.4" fill="none" stroke-linecap="butt"/>
<path d="M1598.64 858.81L1618.84 879.01M1598.64 879.01L1618.84 858.81" stroke="#d95f02" stroke-width="3.4" fill="none" stroke-linecap="butt"/>
<path d="M1647.21 800.77L1667.41 820.97M1647.21 820.97L1667.41 800.77" stroke="#d95f02" stroke-width="3.4" fill="none" stroke-linecap="butt"/>
<path d="M1695.78 765.57L1715.98 785.77M1695.78 785.77L1715.98 765.57" stroke="#d95f02" stroke-width="3.4" fill="none" stroke-linecap="butt"/>
<path d="M1744.35 733.92L1764.55 754.12M1744.35 754.12L1764.55 733.92" stroke="#d95f02" stroke-width="3.4" fill="none" stroke-linecap="butt"/>
<path d="M1792.92 780.97L1813.12 801.17M1792.92 801.17L1813.12 780.97" stroke="#d95f02" stroke-width="3.4" fill="none" stroke-linecap="butt"/>
<path d="M1841.49 794.05L1861.69 814.25M1841.49 814.25L1861.69 794.05" stroke="#d95f02" stroke-width="3.4" fill="none" stroke-linecap="butt"/>
<path d="M1890.06 810.18L1910.26 830.38M1890.06 830.38L1910.26 810.18" stroke="#d95f02" stroke-width="3.4" fill="none" stroke-linecap="butt"/>
<path d="M1938.63 772.91L1958.83 793.11M1938.63 793.11L1958.83 772.91" stroke="#d95f02" stroke-width="3.4" fill="none" stroke-linecap="butt"/>
<path d="M1987.2 780.97L2007.4 801.17M1987.2 801.17L2007.4 780.97" stroke="#d95f02" stroke-width="3.4" fill="none" stroke-linecap="butt"/>
<polyline points="1511.6,814.9 1560.17,833.84 1608.74,839.22 1657.31,767.49 1705.88,752.82 1754.45,727.16 1803.02,765.04 1851.59,776.53 1900.16,792.66 1948.73,756.98 1997.3,795.96" fill="none" stroke="#7570b3" stroke-width="6.25" stroke-linejoin="round" stroke-linecap="square"/>
<path d="M1501.5 804.8L1521.7 825M1501.5 825L1521.7 804.8" stroke="#7570b3" stroke-width="3.4" fill="none" stroke-linecap="butt"/>
<path d="M1550.07 823.74L1570.27 843.94M1550.07 843.94L1570.27 823.74" stroke="#7570b3" stroke-width="3.4" fill="none" stroke-linecap="butt"/>
<path d="M1598.64 829.12L1618.84 849.32M1598.64 849.32L1618.84 829.12" stroke="#7570b3" stroke-width="3.4" fill="none" stroke-linecap="butt"/>
<path d="M1647.21 757.39L1667.41 777.59M1647.21 777.59L1667.41 757.39" stroke="#7570b3" stroke-width="3.4" fill="none" stroke-linecap="butt"/>
<path d="M1695.78 742.72L1715.98 762.92M1695.78 762.92L1715.98 742.72" stroke="#7570b3" stroke-width="3.4" fill="none" stroke-linecap="butt"/>
<path d="M1744.35 717.06L1764.55 737.26M1744.35 737.26L1764.55 717.06" stroke="#7570b3" stroke-width="3.4" fill="none" stroke-linecap="butt"/>
<path d="M1792.92 754.94L1813.12 775.14M1792.92 775.14L1813.12 754.94" stroke="#7570b3" stroke-width="3.4" fill="none" stroke-linecap="butt"/>
<path d="M1841.49 766.43L1861.69 786.63M1841.49 786.63L1861.69 766.43" stroke="#7570b3" stroke-width="3.4" fill="none" stroke-linecap="butt"/>
<path d="M1890.06 782.56L1910.26 802.76M1890.06 802.76L1910.26 782.56" stroke="#7570b3" stroke-width="3.4" fill="none" stroke-linecap="butt"/>
<path d="M1938.63 746.88L1958.83 767.08M1938.63 767.08L1958.83 746.88" stroke="#7570b3" stroke-width="3.4" fill="none" stroke-linecap="butt"/>
<path d="M1987.2 785.86L2007.4 806.06M1987.2 806.06L2007.4 785.86" stroke="#7570b3" stroke-width="3.4" fill="none" stroke-linecap="butt"/>
<line x1="1487.3" y1="812.7" x2="2021.6" y2="812.7" stroke="#000" stroke-width="6.25" stroke-dasharray="23.0 10.2"/>
</g>
<rect x="1487.3" y="630.4" width="534.3" height="364.8" fill="none" stroke="#000" stroke-width="3.33" stroke-linejoin="miter"/>
<line x1="1511.6" y1="995.2" x2="1511.6" y2="1009.8" stroke="#000" stroke-width="3.33"/>
<text x="1511.6" y="1043.5" font-size="25" text-anchor="middle">0</text>
<line x1="1608.74" y1="995.2" x2="1608.74" y2="1009.8" stroke="#000" stroke-width="3.33"/>
<text x="1608.74" y="1043.5" font-size="25" text-anchor="middle">2</text>
<line x1="1705.88" y1="995.2" x2="1705.88" y2="1009.8" stroke="#000" stroke-width="3.33"/>
<text x="1705.88" y="1043.5" font-size="25" text-anchor="middle">4</text>
<line x1="1803.02" y1="995.2" x2="1803.02" y2="1009.8" stroke="#000" stroke-width="3.33"/>
<text x="1803.02" y="1043.5" font-size="25" text-anchor="middle">6</text>
<line x1="1900.16" y1="995.2" x2="1900.16" y2="1009.8" stroke="#000" stroke-width="3.33"/>
<text x="1900.16" y="1043.5" font-size="25" text-anchor="middle">8</text>
<line x1="1997.3" y1="995.2" x2="1997.3" y2="1009.8" stroke="#000" stroke-width="3.33"/>
<text x="1997.3" y="1043.5" font-size="25" text-anchor="middle">10</text>
<line x1="1472.7" y1="934.9" x2="1487.3" y2="934.9" stroke="#000" stroke-width="3.33"/>
<text x="1458.1" y="944" font-size="25" text-anchor="end">−1.0</text>
<line x1="1472.7" y1="873.8" x2="1487.3" y2="873.8" stroke="#000" stroke-width="3.33"/>
<text x="1458.1" y="882.9" font-size="25" text-anchor="end">−0.5</text>
<line x1="1472.7" y1="812.7" x2="1487.3" y2="812.7" stroke="#000" stroke-width="3.33"/>
<text x="1458.1" y="821.8" font-size="25" text-anchor="end">0.0</text>
<line x1="1472.7" y1="751.6" x2="1487.3" y2="751.6" stroke="#000" stroke-width="3.33"/>
<text x="1458.1" y="760.7" font-size="25" text-anchor="end">0.5</text>
<line x1="1472.7" y1="690.5" x2="1487.3" y2="690.5" stroke="#000" stroke-width="3.33"/>
<text x="1458.1" y="699.6" font-size="25" text-anchor="end">1.0</text>
<text x="1753.05" y="1083.4" font-size="25" text-anchor="middle">Lag (year)</text>
<text x="1754.25" y="604.2" font-size="25" text-anchor="middle">Extreme precip.: <tspan dx="3">Δ</tspan><tspan font-style="italic">P</tspan><tspan font-style="italic" font-size="17.5" dy="5.2">ext</tspan></text>
<text x="1433" y="612" font-size="33.3" font-weight="bold" style="stroke-width:0.2px">e</text>
<rect x="1652.7" y="643.5" width="353.6" height="76.8" rx="5" ry="5" fill="#ffffff" fill-opacity="0.8" stroke="#cccccc" stroke-opacity="0.8" stroke-width="3.3"/>
<line x1="1660.2" y1="663.2" x2="1715.9" y2="663.2" stroke="#1b9e77" stroke-width="6.25"/>
<path d="M1677.95 653.1L1698.15 673.3M1677.95 673.3L1698.15 653.1" stroke="#1b9e77" stroke-width="3.4" fill="none" stroke-linecap="butt"/>
<text x="1733.5" y="672" font-size="25">11.0C</text>
<line x1="1660.2" y1="698.8" x2="1715.9" y2="698.8" stroke="#d95f02" stroke-width="6.25"/>
<path d="M1677.95 688.7L1698.15 708.9M1677.95 708.9L1698.15 688.7" stroke="#d95f02" stroke-width="3.4" fill="none" stroke-linecap="butt"/>
<text x="1733.5" y="707.6" font-size="25">21.0C</text>
<line x1="1853.6" y1="663.2" x2="1908.9" y2="663.2" stroke="#7570b3" stroke-width="6.25"/>
<path d="M1871.15 653.1L1891.35 673.3M1871.15 673.3L1891.35 653.1" stroke="#7570b3" stroke-width="3.4" fill="none" stroke-linecap="butt"/>
<text x="1926.5" y="672" font-size="25">26.0C</text>
<text transform="translate(337.6,267) rotate(-90)" font-size="25" text-anchor="middle">Effect per 1C increase</text><text transform="translate(366.4,267) rotate(-90)" font-size="25" text-anchor="middle">(%-point growth rate)</text>
<text transform="translate(25.6,814.2) rotate(-90)" font-size="25" text-anchor="middle">Effect per 1std increase</text><text transform="translate(54.4,814.2) rotate(-90)" font-size="25" text-anchor="middle">(%-point growth rate)</text>
<text x="1051.4" y="19.8" font-size="25" text-anchor="middle">wr2=0.0472/BIC=-4463/AIC=-3.346e+04</text>
</svg>
</body></html>
